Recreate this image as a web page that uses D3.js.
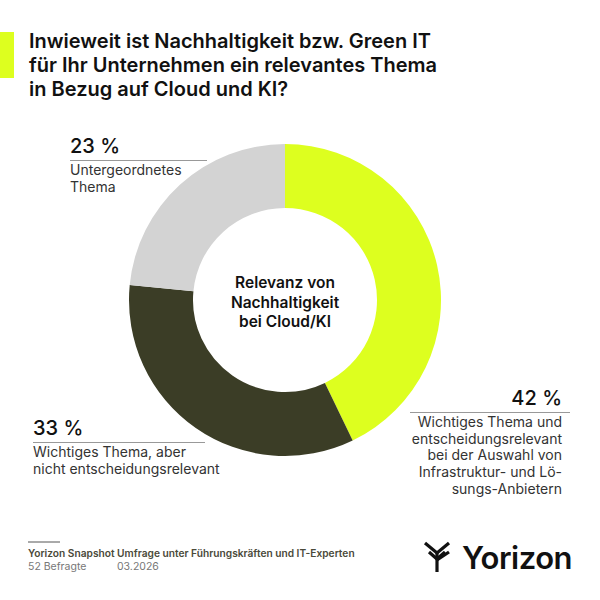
<!DOCTYPE html>
<html><head><meta charset="utf-8">
<script src="https://cdn.jsdelivr.net/npm/d3@7"></script>
<style>
html,body{margin:0;padding:0;background:#fff;}
svg{display:block;font-family:Inter,"Noto Sans",sans-serif;}
</style></head>
<body>
<svg id="c" width="600" height="600"></svg>
<script>
const titleLines = ["Inwieweit ist Nachhaltigkeit bzw. Green IT","für Ihr Unternehmen ein relevantes Thema","in Bezug auf Cloud und KI?"];
const categories = ["Wichtiges Thema und entscheidungsrelevant bei der Auswahl von Infrastruktur- und Lösungs-Anbietern","Wichtiges Thema, aber nicht entscheidungsrelevant","Untergeordnetes Thema"];
const values = [42, 33, 23];
const colors = ["#DDFF1F", "#3B3D26", "#D3D3D3"];
const labelLines = [
  ["Wichtiges Thema und","entscheidungsrelevant","bei der Auswahl von","Infrastruktur- und Lö-","sungs-Anbietern"],
  ["Wichtiges Thema, aber","nicht entscheidungsrelevant"],
  ["Untergeordnetes","Thema"]
];
const centerLines = ["Relevanz von","Nachhaltigkeit","bei Cloud/KI"];
const footerTitle = "Yorizon Snapshot Umfrage unter Führungskräften und IT-Experten";
const footerN = "52 Befragte";
const footerDate = "03.2026";

const svg = d3.select("#c");

// title
svg.append("rect").attr("x",0).attr("y",32).attr("width",14).attr("height",46).attr("fill","#DDFF1F");
svg.append("g").selectAll("text").data(titleLines).join("text")
  .attr("x",29).attr("y",(d,i)=>47.5+i*24)
  .attr("font-size",20).attr("font-weight",600).attr("fill","#111")
  .text(d=>d);

// donut
const cx=285, cy=300, R=156, r=92;
const pie = d3.pie().sort(null).value(d=>d);
const arc = d3.arc().innerRadius(r).outerRadius(R);
const g = svg.append("g").attr("transform",`translate(${cx},${cy})`);
g.selectAll("path").data(pie(values)).join("path")
  .attr("d",arc).attr("fill",(d,i)=>colors[i]);

g.selectAll("text.c").data(centerLines).join("text").attr("class","c")
  .attr("x",0).attr("y",(d,i)=>-12+i*19.5)
  .attr("text-anchor","middle").attr("font-size",15.5).attr("font-weight",600).attr("fill","#111")
  .text(d=>d);

// labels
const labelPos = [
  {x:562, y:405, anchor:"end", lx1:410, lx2:570},
  {x:33, y:435, anchor:"start", lx1:33, lx2:205},
  {x:70, y:153, anchor:"start", lx1:70, lx2:207}
];
values.forEach((v,i)=>{
  const p = labelPos[i];
  const lg = svg.append("g");
  lg.append("text").attr("x",p.x).attr("y",p.y).attr("text-anchor",p.anchor)
    .attr("font-size",20).attr("font-weight",500).attr("fill","#111").text(v+" %");
  lg.append("line").attr("x1",p.lx1).attr("x2",p.lx2).attr("y1",p.y+7.5).attr("y2",p.y+7.5)
    .attr("stroke","#999").attr("stroke-width",1);
  lg.selectAll("text.l").data(labelLines[i]).join("text").attr("class","l")
    .attr("x",p.x).attr("y",(d,j)=>p.y+22+j*16.7).attr("text-anchor",p.anchor)
    .attr("font-size",14).attr("fill","#333").text(d=>d);
});

// footer
svg.append("line").attr("x1",28).attr("x2",60).attr("y1",542).attr("y2",542).attr("stroke","#555").attr("stroke-width",1);
svg.append("text").attr("x",28).attr("y",557).attr("font-size",10.2).attr("font-weight",600).attr("fill","#4a4a3a").text(footerTitle);
svg.append("text").attr("x",28).attr("y",570).attr("font-size",10.5).attr("fill","#777").text(footerN);
svg.append("text").attr("x",117).attr("y",570).attr("font-size",10.5).attr("fill","#777").text(footerDate);

// logo
const logo = svg.append("g").attr("fill","none").attr("stroke","#111").attr("stroke-width",3.2).attr("stroke-linecap","butt");
logo.append("path").attr("d","M425,543 L437,553 L449,543");
logo.append("path").attr("d","M429,552 L437,559 L445,552");
logo.append("path").attr("d","M437,553 L437,572");
logo.append("path").attr("d","M437,560 L449,552");
svg.append("text").attr("x",462).attr("y",569).attr("font-size",31).attr("font-weight",600).attr("fill","#111").attr("letter-spacing",-0.5).text("Yorizon");
</script>
</body></html>
